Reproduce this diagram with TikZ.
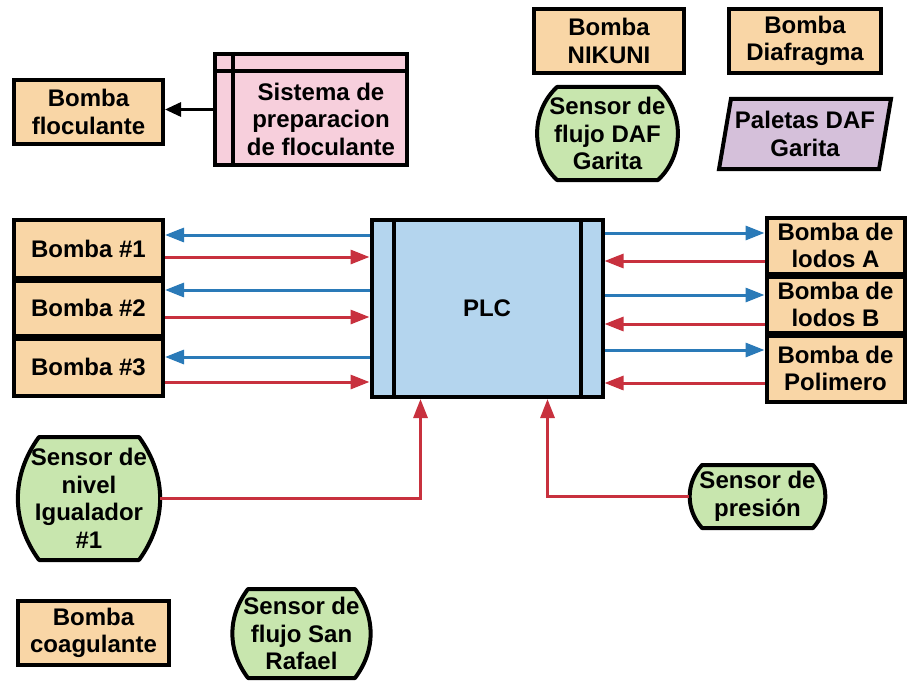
\documentclass[tikz,border=0pt]{standalone}
\usepackage{fontspec}
\setmainfont{Liberation Sans}
\usetikzlibrary{arrows.meta,shapes.geometric,backgrounds}

\definecolor{pumpfill}{HTML}{F9D6A6}
\definecolor{sensorfill}{HTML}{C8E6AE}
\definecolor{plcfill}{HTML}{B4D5EE}
\definecolor{prepfill}{HTML}{F7CFDC}
\definecolor{paddlefill}{HTML}{D5C0DA}
\definecolor{cmdblue}{HTML}{2A7AB8}
\definecolor{sigred}{HTML}{C8313E}

% outline of a sensor: flat top and bottom, arched sides
% #1 node, #2 depth of the arch, #3 bend angle of the arch
\newcommand\sensoroutline[3]{%
  \begin{pgfonlayer}{background}
  \draw[line width=4pt, line join=round, fill=sensorfill]
    ([xshift=#2]#1.north west) -- ([xshift=-#2]#1.north east)
    to[bend left=#3] ([xshift=-#2]#1.south east)
    -- ([xshift=#2]#1.south west)
    to[bend left=#3] ([xshift=#2]#1.north west) -- cycle;
  \end{pgfonlayer}}

\begin{document}
\begin{tikzpicture}[x=1pt,y=-1pt,
  lbl/.style={font=\fontsize{24}{27.5}\selectfont\bfseries, align=center, text=black},
  box/.style={lbl, draw=black, line width=4pt, inner sep=0pt},
  pump/.style={box, fill=pumpfill},
  sensor/.style={lbl, inner sep=0pt, outer sep=0pt},
  cmd/.style={cmdblue, line width=3pt, -{Triangle[length=19pt,width=14pt]}},
  sig/.style={sigred, line width=3pt, -{Triangle[length=19pt,width=14pt]}},
]
\begin{pgfonlayer}{background}
  \fill[white] (0,0) rectangle (909,682);
\end{pgfonlayer}
\useasboundingbox (0,0) rectangle (909,682);

% flocculant preparation and its pump
\node[pump, minimum width=149pt, minimum height=64pt] (floc) at (88.5,112) {Bomba\\floculante};
\node[box, fill=prepfill, minimum width=192pt, minimum height=111pt] (prep) at (311,109.5) {};
\draw[line width=4pt] ([xshift=20pt]prep.north west) -- ([xshift=20pt]prep.south west);
\draw[line width=4pt] ([yshift=-19pt]prep.north west) -- ([yshift=-19pt]prep.north east);
\node[lbl] (preptxt) at (321,119) {Sistema de\\preparacion\\de floculante};
\draw[line width=3pt, -{Triangle[length=16pt,width=14pt]}] (prep.west) -- (prep.west -| floc.east);

% stand-alone equipment at the top
\node[pump, minimum width=150pt, minimum height=64pt] (nikuni) at (609,41) {Bomba\\NIKUNI};
\node[pump, minimum width=152pt, minimum height=64pt] (diaf) at (805,41) {Bomba\\Diafragma};
\node[sensor, minimum width=141pt, minimum height=93pt] (dafs) at (607.5,133.5) {Sensor de\\flujo DAF\\Garita};
\sensoroutline{dafs}{20pt}{47}
\node[box, fill=paddlefill, trapezium, trapezium left angle=76, trapezium right angle=104,
      trapezium stretches=true, minimum width=172pt, minimum height=70pt] (pal) at (805,134) {Paletas DAF\\Garita};

% controller
\node[box, fill=plcfill, minimum width=231pt, minimum height=177pt] (plc) at (487,308.5) {PLC};
\draw[line width=4pt] ([xshift=24pt]plc.north west) -- ([xshift=24pt]plc.south west);
\draw[line width=4pt] ([xshift=-24pt]plc.north east) -- ([xshift=-24pt]plc.south east);

% pumps on the left
\node[pump, minimum width=149pt, minimum height=58pt] (b1) at (88.5,248.5) {Bomba \#1};
\node[pump, minimum width=149pt, minimum height=55pt] (b2) at (88.5,308) {Bomba \#2};
\node[pump, minimum width=149pt, minimum height=57pt] (b3) at (88.5,367) {Bomba \#3};

% pumps on the right
\node[pump, minimum width=138pt, minimum height=56pt] (la) at (835.5,245.5) {Bomba de\\lodos A};
\node[pump, minimum width=138pt, minimum height=56pt] (lb) at (835.5,304.5) {Bomba de\\lodos B};
\node[pump, minimum width=138pt, minimum height=66pt] (pol) at (835.5,368.5) {Bomba de\\Polimero};

% sensors and pump below
\node[sensor, minimum width=142pt, minimum height=123pt] (niv) at (89,498.5) {Sensor de\\nivel\\Igualador\\\#1};
\sensoroutline{niv}{21pt}{36}
\node[sensor, minimum width=137pt, minimum height=63pt] (pres) at (757.5,496.5) {Sensor de\\presión};
\sensoroutline{pres}{13pt}{42}
\node[pump, minimum width=151pt, minimum height=64pt] (coag) at (93.5,633) {Bomba\\coagulante};
\node[sensor, minimum width=139pt, minimum height=89pt] (sraf) at (301.5,633.5) {Sensor de\\flujo San\\Rafael};
\sensoroutline{sraf}{16pt}{37}

% left side: commands out, signals in
\foreach \dy/\tgt in {17/b1, 72/b2, 139/b3}
  \path ([yshift=-\dy pt]plc.north west) coordinate (c-\tgt);
\foreach \dy/\tgt in {39/b1, 99/b2, 164/b3}
  \path ([yshift=-\dy pt]plc.north west) coordinate (s-\tgt);
\foreach \tgt in {b1,b2,b3} {
  \draw[cmd] (c-\tgt) -- (c-\tgt -| \tgt.east);
  \draw[sig] (s-\tgt -| \tgt.east) -- (s-\tgt);
}

% right side: commands out, signals in
\foreach \dy/\tgt in {15/la, 77/lb, 132/pol}
  \path ([yshift=-\dy pt]plc.north east) coordinate (c-\tgt);
\foreach \dy/\tgt in {43/la, 106/lb, 165/pol}
  \path ([yshift=-\dy pt]plc.north east) coordinate (s-\tgt);
\foreach \tgt in {la,lb,pol} {
  \draw[cmd] (c-\tgt) -- (c-\tgt -| \tgt.west);
  \draw[sig] (s-\tgt -| \tgt.west) -- (s-\tgt);
}

% sensor signals into the bottom of the controller
\draw[sig] (niv.east) -| ([xshift=51pt]plc.south west);
\draw[sig] (pres.west) -| ([xshift=178pt]plc.south west);
\end{tikzpicture}
\end{document}
